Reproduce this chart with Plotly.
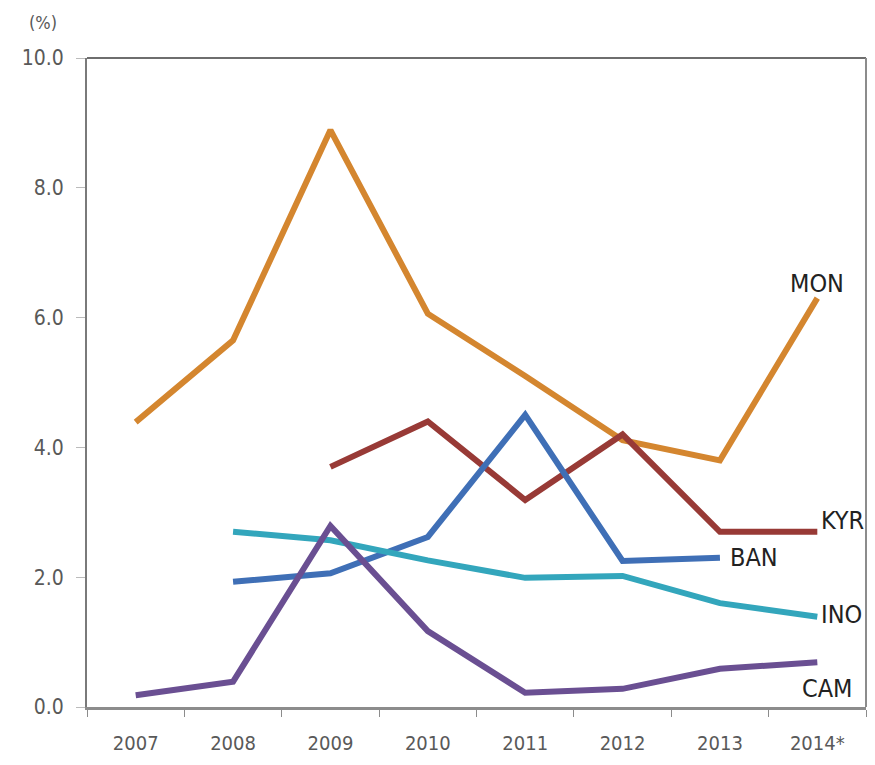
import plotly.graph_objects as go

years = ["2007", "2008", "2009", "2010", "2011", "2012", "2013", "2014*"]

mon = [4.39, 5.65, 8.89, 6.06, 5.10, 4.11, 3.80, 6.30]
kyr = [None, None, 3.70, 4.40, 3.19, 4.20, 2.70, 2.70]
ban = [None, 1.93, 2.06, 2.62, 4.50, 2.25, 2.30, None]
ino = [None, 2.70, 2.57, 2.26, 1.99, 2.02, 1.60, 1.39]
cam = [0.18, 0.39, 2.79, 1.17, 0.22, 0.28, 0.59, 0.69]

series = [
    ("MON", mon, "#D4862F"),
    ("KYR", kyr, "#983A36"),
    ("BAN", ban, "#3F6FB6"),
    ("INO", ino, "#33A6BC"),
    ("CAM", cam, "#6A4F92"),
]

FONT = "Liberation Sans Narrow, DejaVu Sans Condensed, Roboto Condensed, Roboto, sans-serif"

fig = go.Figure()
for name, vals, color in series:
    fig.add_trace(go.Scatter(
        x=years, y=vals, mode="lines", name=name,
        line=dict(color=color, width=6), connectgaps=False,
        hoverinfo="skip",
    ))

label_font = dict(family=FONT, size=25, color="#222222")
# series labels placed next to line ends (x given as category index)
labels = [
    ("MON", 7, 6.53, "center", 0),
    ("KYR", 7, 2.88, "left", 2),
    ("BAN", 6, 2.30, "left", 8),
    ("INO", 7, 1.42, "left", 2),
    ("CAM", 7, 0.29, "center", 10),
]
for text, xv, yv, anchor, shift in labels:
    fig.add_annotation(x=xv, y=yv, xref="x", yref="y", text=text, showarrow=False,
                       xanchor=anchor, yanchor="middle", xshift=shift,
                       font=label_font)

fig.add_annotation(text="(%)", xref="paper", yref="paper", x=-0.056, y=1.0,
                   yshift=36, xanchor="center", yanchor="middle", showarrow=False,
                   font=dict(family=FONT, size=18, color="#595959"))

fig.update_layout(
    width=875, height=765,
    margin=dict(l=87, r=9, t=58, b=58),
    paper_bgcolor="white", plot_bgcolor="white",
    showlegend=False,
    font=dict(family=FONT, size=18, color="#595959"),
)
fig.update_xaxes(
    type="category", range=[-0.5, 7.5],
    showline=True, linecolor="#8C8C8C", linewidth=3, mirror=False,
    ticks="outside", tickson="boundaries", ticklen=7, tickcolor="#8C8C8C", tickwidth=1,
    showgrid=False, zeroline=False, ticklabelstandoff=16,
    tickfont=dict(family=FONT, size=20, color="#595959"),
)
fig.update_yaxes(
    range=[0, 10], tickvals=[0, 2, 4, 6, 8, 10],
    ticktext=["0.0", "2.0", "4.0", "6.0", "8.0", "10.0"],
    showline=True, linecolor="#7A7A7A", linewidth=2, mirror=False,
    ticks="outside", ticklen=9, tickcolor="#BBBBBB", tickwidth=1,
    showgrid=False, zeroline=False, ticklabelstandoff=8,
    tickfont=dict(family=FONT, size=21, color="#595959"),
)
# frame: top and right borders
fig.add_shape(type="line", xref="paper", yref="paper", x0=0, x1=1, y0=1, y1=1,
              line=dict(color="#6E6E6E", width=2))
fig.add_shape(type="line", xref="paper", yref="paper", x0=1, x1=1, y0=0, y1=1,
              line=dict(color="#8C8C8C", width=2))

fig.write_html("out.html")
